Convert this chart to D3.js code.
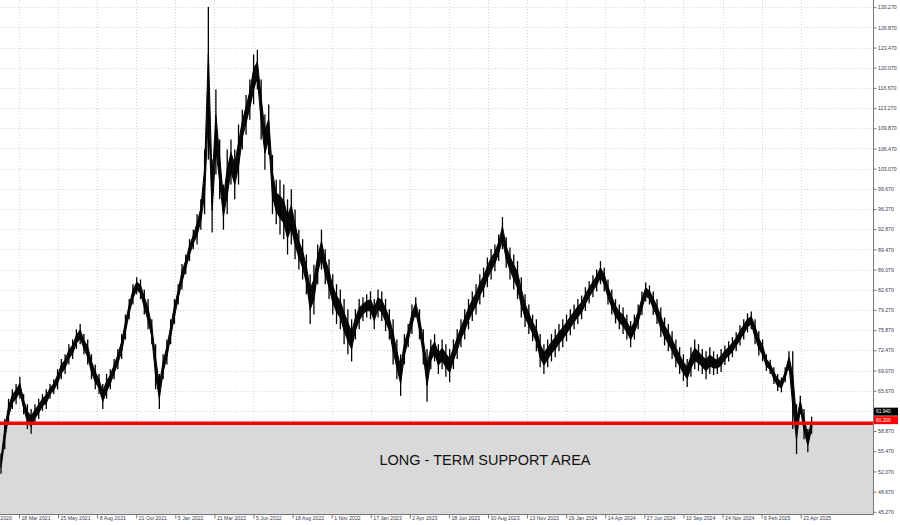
<!DOCTYPE html>
<html><head><meta charset="utf-8">
<script src="https://cdn.jsdelivr.net/npm/d3@7"></script>
<style>body{margin:0;background:#fff}svg{display:block}</style>
</head><body>
<svg id="c" width="900" height="525"></svg>
<script>
// Weekly highs / lows
const lows = [51.7,55.8,60.1,62.6,63.4,64.3,61.7,59.2,58.4,60.1,60.9,62.3,62.6,64.3,65.1,65.9,67.6,68.5,70.1,71.0,
72.7,73.5,71.8,70.1,67.6,65.9,65.1,62.6,64.3,65.9,67.6,69.3,71.0,74.3,77.7,80.2,81.9,81.1,78.5,76.0,
73.5,65.9,62.6,67.6,70.1,73.5,76.9,80.2,82.7,85.3,87.5,89.5,90.3,92.8,95.4,104.6,92.3,102.1,97.9,92.8,
95.4,100.4,97.9,100.4,106.3,108.8,111.3,113.9,116.4,108.0,102.9,105.4,95.4,93.7,92.0,91.2,88.6,90.3,87.8,86.1,
84.4,81.9,76.9,78.5,83.6,86.1,83.6,81.1,78.5,76.9,76.0,73.5,71.8,70.6,74.3,76.0,77.4,78.0,77.7,76.0,
78.0,77.4,75.7,74.3,70.1,67.6,64.8,70.1,73.0,75.2,78.0,74.3,70.1,63.8,69.3,70.6,68.5,69.3,68.0,67.1,
69.3,71.0,73.0,74.3,76.0,77.4,78.5,80.2,81.4,83.1,84.4,85.8,87.5,89.5,86.4,84.4,82.7,81.1,78.0,76.4,
75.2,74.0,72.3,69.6,68.5,69.6,70.6,71.3,72.3,73.0,74.0,75.0,76.0,76.9,77.7,79.1,80.4,81.4,82.4,83.6,
82.4,80.2,78.5,77.0,76.0,75.2,74.3,73.0,74.3,76.0,78.4,80.7,80.2,78.4,76.9,74.7,73.3,72.3,71.0,69.6,
68.5,67.3,66.3,68.0,69.3,69.0,68.5,67.6,68.5,68.3,68.5,68.8,70.0,70.6,71.3,72.3,73.3,74.3,75.5,76.0,
73.5,71.6,70.6,69.0,68.5,66.8,65.6,65.4,67.1,69.0,59.2,55.0,61.7,57.5,55.3,58.4];
const highs = [55.1,60.9,64.3,65.9,66.8,68.0,65.1,63.4,62.6,63.4,64.3,65.1,65.9,66.8,67.6,69.3,71.0,71.8,73.5,74.3,
76.0,76.9,75.2,74.3,71.8,70.1,68.5,66.8,68.5,69.3,71.0,72.7,75.2,78.5,81.1,83.6,84.8,84.4,82.7,81.1,
77.7,73.5,68.5,71.8,74.3,77.7,81.1,83.6,87.0,88.6,91.2,92.8,95.4,97.9,106.3,130.3,104.6,116.4,108.0,100.4,
106.3,108.0,106.3,110.5,113.0,115.5,118.1,122.3,123.1,118.1,112.2,113.9,105.4,101.2,101.2,100.4,97.9,99.6,96.2,92.8,
91.2,88.6,85.3,86.9,90.3,92.8,89.5,87.8,85.3,83.6,82.7,81.1,79.4,77.7,79.4,81.1,81.4,81.9,82.4,81.1,
82.7,82.4,81.1,79.4,77.7,74.3,71.8,75.2,76.9,80.2,81.4,79.4,76.0,72.7,74.3,75.2,73.5,74.3,73.5,72.7,
74.3,76.0,77.7,79.4,81.1,82.4,83.6,85.3,86.4,88.1,89.5,90.3,92.0,94.9,91.5,89.8,88.6,87.5,84.8,81.9,
80.2,78.5,77.7,75.2,73.5,74.3,75.2,76.0,76.9,77.7,78.5,79.4,80.2,81.1,81.7,83.1,84.1,85.1,86.1,87.5,
86.4,84.4,82.7,81.1,80.2,79.7,78.5,77.4,78.5,80.2,82.4,83.9,83.4,82.4,81.1,79.7,78.0,76.9,75.7,74.3,
73.0,71.8,71.0,73.0,74.3,73.5,72.7,72.3,73.0,72.3,71.8,72.7,73.3,74.0,74.7,75.5,76.7,77.7,78.7,79.0,
77.7,75.7,74.3,71.8,70.9,69.6,68.5,67.9,69.6,72.3,72.3,63.4,64.8,62.6,59.2,61.3];

const yTickValues = [45.270,48.670,52.070,55.470,58.870,62.270,65.670,69.070,72.470,75.870,79.270,82.670,86.070,
  89.470,92.870,96.270,99.670,103.070,106.470,109.870,113.270,116.670,120.070,123.470,126.870,130.270];
const xTickLabels = ["29 Dec 2020","18 Mar 2021","25 May 2021","8 Aug 2021","21 Oct 2021","5 Jan 2022",
  "21 Mar 2022","5 Jun 2022","18 Aug 2022","1 Nov 2022","17 Jan 2023","2 Apr 2023","18 Jun 2023",
  "30 Aug 2023","13 Nov 2023","29 Jan 2024","14 Apr 2024","27 Jun 2024","10 Sep 2024","24 Nov 2024",
  "6 Feb 2025","23 Apr 2025"];
const firstTickWeek = -5.6;     // bar-index (weeks) of first date label
const weeksPerTick = 10.367;
const supportLevel = 60.200;
const currentPrice = 61.940;
const supportText = "LONG - TERM SUPPORT AREA";

const svg = d3.select("#c");
const W = 873, B = 514;
const x = d3.scaleLinear().domain([0, highs.length - 1]).range([1, 811.6]);
const y = d3.scaleLinear().domain([45.27, 130.27]).range([511.8, 7.2]);
const tickWeeks = xTickLabels.map((d, k) => firstTickWeek + k * weeksPerTick);
const font = "Liberation Sans, Arial, sans-serif";

// grid
const grid = svg.append("g").attr("stroke", "#c9c9c9").attr("stroke-width", 0.8).attr("stroke-dasharray", "1,2");
grid.selectAll("line.h").data(yTickValues).join("line")
  .attr("x1", 0).attr("x2", W).attr("y1", d => Math.round(y(d)) + 0.5).attr("y2", d => Math.round(y(d)) + 0.5);
grid.selectAll("line.v").data(tickWeeks.filter(w => x(w) > 0)).join("line")
  .attr("y1", 0).attr("y2", B).attr("x1", d => Math.round(x(d)) + 0.5).attr("x2", d => Math.round(x(d)) + 0.5);

// support area
svg.append("rect").attr("x", 0).attr("width", W).attr("y", y(supportLevel)).attr("height", B - y(supportLevel))
  .attr("fill", "#d9d9d9");

// price series: a core band around each week's middle, plus the full weekly high-low bars
const data = highs.map((h, i) => ({i, h, l: lows[i], m: (h + lows[i]) / 2, r: h - lows[i]}));
svg.append("path").datum(data)
  .attr("d", d3.area().x(d => x(d.i)).y0(d => y(d.m - d.r * 0.2)).y1(d => y(d.m + d.r * 0.2)))
  .attr("fill", "#0a0a0a").attr("stroke", "#0a0a0a").attr("stroke-width", 1.1);
svg.append("g").selectAll("line").data(data).join("line")
  .attr("x1", d => x(d.i)).attr("x2", d => x(d.i)).attr("y1", d => y(d.l)).attr("y2", d => y(d.h))
  .attr("stroke", "#000").attr("stroke-width", 1.3);

// support line
svg.append("line").attr("x1", 0).attr("x2", W).attr("y1", y(supportLevel)).attr("y2", y(supportLevel))
  .attr("stroke", "#ff0000").attr("stroke-width", 3.5);

svg.append("text").attr("x", 485).attr("y", 465).attr("text-anchor", "middle")
  .attr("font-family", font).attr("font-size", 14.5).attr("fill", "#111")
  .text(supportText);

// borders
svg.append("line").attr("x1", W + 0.5).attr("x2", W + 0.5).attr("y1", 0).attr("y2", B + 0.5).attr("stroke", "#777");
svg.append("line").attr("x1", 0).attr("x2", W + 0.5).attr("y1", B + 0.5).attr("y2", B + 0.5).attr("stroke", "#777");

// y axis (right)
const ya = svg.append("g").attr("transform", `translate(${W + 0.5},0)`)
  .call(d3.axisRight(y).tickValues(yTickValues).tickSize(3).tickPadding(1.5).tickFormat(d3.format(".3f")));
ya.select(".domain").remove();
ya.selectAll("line").attr("stroke", "#777");
ya.selectAll("text").attr("font-family", font).attr("font-size", 5.2).attr("fill", "#3a3a4a");

// x axis
const xa = svg.append("g").attr("transform", `translate(0,${B + 0.5})`)
  .call(d3.axisBottom(x).tickValues(tickWeeks).tickSize(4).tickFormat((d, k) => xTickLabels[k]));
xa.select(".domain").remove();
xa.selectAll("line").attr("stroke", "#777");
xa.selectAll("text").attr("text-anchor", "start").attr("dx", 2).attr("dy", -1.5)
  .attr("font-family", font).attr("font-size", 5.2).attr("fill", "#3a3a4a");

// price labels at right (stacked boxes)
const ry = y(supportLevel) - 3;
svg.append("rect").attr("x", W + 1).attr("y", ry - 4).attr("width", 24).attr("height", 8).attr("fill", "#ff0000");
svg.append("text").attr("x", W + 3).attr("y", ry + 1.8).attr("font-size", 4.8)
  .attr("font-family", font).attr("fill", "#fff").text(d3.format(".3f")(supportLevel));
svg.append("rect").attr("x", W + 1).attr("y", ry - 12.5).attr("width", 24).attr("height", 8).attr("fill", "#000");
svg.append("text").attr("x", W + 3).attr("y", ry - 6.7).attr("font-size", 4.8)
  .attr("font-family", font).attr("fill", "#fff").text(d3.format(".3f")(currentPrice));
</script>
</body></html>
